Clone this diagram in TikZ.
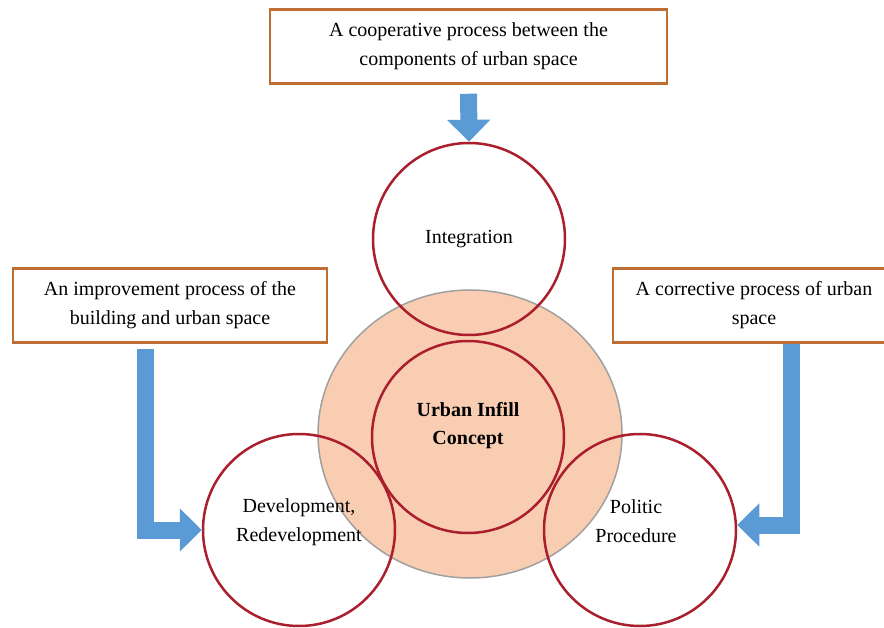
\documentclass[tikz,border=0pt]{standalone}
\usepackage{fontspec}
\setmainfont{Liberation Serif}
\usetikzlibrary{arrows.meta,shapes.geometric}

\definecolor{boxorange}{RGB}{190,110,50}
\definecolor{ringred}{RGB}{170,30,45}
\definecolor{arrowblue}{RGB}{91,155,213}
\definecolor{basepeach}{RGB}{248,205,178}
\definecolor{basegray}{RGB}{160,160,160}

\tikzset{
  txtbox/.style={draw=boxorange,line width=2.5pt,fill=white,minimum height=74pt,align=center,inner sep=0pt},
  ring/.style={circle,draw=ringred,line width=2.5pt,minimum size=192pt,inner sep=0pt},
  blockarrow/.style={draw=arrowblue,line width=17pt,-{Triangle[width=42pt,length=22pt]}}
}

\begin{document}
\begin{tikzpicture}[x=1pt,y=-1pt,font=\fontsize{20}{29}\selectfont]
    \useasboundingbox (0,0) rectangle (884,628);
    \clip (0,0) rectangle (884,628);

    % Core disc
    \node[ellipse,draw=basegray,fill=basepeach,line width=1.5pt,minimum width=304pt,minimum height=288pt] (base) at (470,434) {};

    % Rings
    \node[ring,label={[align=center]center:Integration}] (integ) at (469,239) {};
    \node[ring,label={[align=center,yshift=8pt]center:Development,\\Redevelopment}] (dev) at (299,530) {};
    \node[ring,label={[align=center,yshift=9pt,xshift=-4pt]center:Politic\\Procedure}] (pol) at (640,530) {};
    \node[ring,label={[align=center,yshift=11pt,font=\fontsize{20}{28}\selectfont\bfseries]center:Urban Infill\\Concept}] (core) at (468,437) {};

    % Boxes
    \node[txtbox,minimum width=397pt] (coop) at (468.5,46.5) {A cooperative process between the\\components of urban space};
    \node[txtbox,minimum width=314pt] (improve) at (170,305.5) {An improvement process of the\\building and urban space};
    \node[txtbox,minimum width=282pt] (correct) at (754,305.5) {A corrective process of urban\\space};

    % Arrows
    \draw[blockarrow,shorten <=9pt] (coop.south) -- (integ.north);
    \draw[blockarrow] ([xshift=-25pt,yshift=-5pt]improve.south) |- (dev.west);
    \draw[blockarrow] ([xshift=37pt]correct.south) |- ([yshift=5pt]pol.east);
\end{tikzpicture}
\end{document}
